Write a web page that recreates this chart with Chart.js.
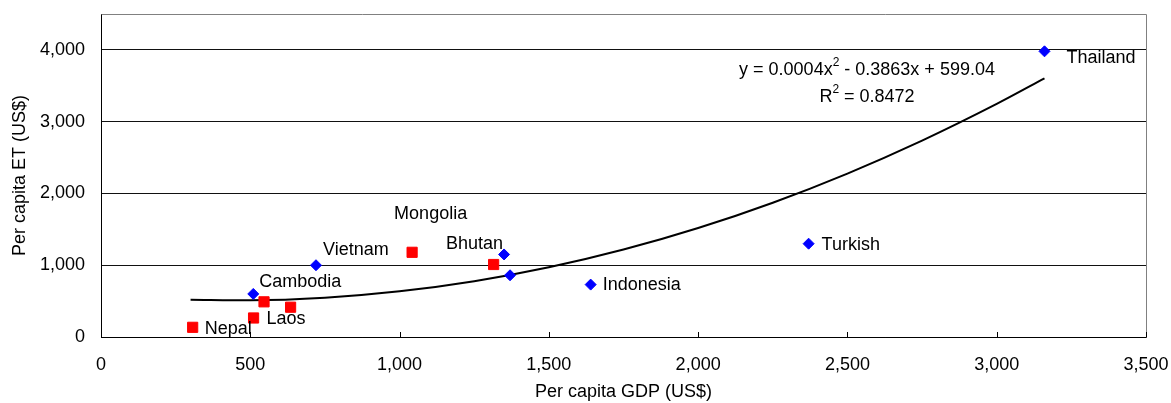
<!DOCTYPE html>
<html>
<head>
<meta charset="utf-8">
<script src="https://cdn.jsdelivr.net/npm/chart.js@4"></script>
<style>
  html, body { margin: 0; padding: 0; background: #fff; }
  #wrap { width: 1171px; height: 403px; }
</style>
</head>
<body>
<div id="wrap"><canvas id="myChart" width="1171" height="403"></canvas></div>
<script>
// blue diamonds
var gdpBlue = [510, 720, 1350, 1370, 1640, 2370, 3160];
var etBlue = [600, 1000, 1150, 860, 730, 1300, 3980];
// red squares
var gdpRed = [307, 511, 546, 635, 1042, 1315];
var etRed = [135, 265, 490, 415, 1180, 1010];
// polynomial trend line
var trendGdp = [300, 500, 750, 1000, 1250, 1500, 1750, 2000, 2250, 2500, 2750, 3000, 3160];
var trendEt = [520, 512, 547, 636, 777, 971, 1218, 1518, 1871, 2277, 2736, 3247, 3603];

var xTicks = [0, 500, 1000, 1500, 2000, 2500, 3000, 3500];
var yTicks = [0, 1000, 2000, 3000, 4000];

// country names: [series, point index, dx, dy]
var countryLabels = [
    ["Thailand", "blue", 6, 22, 7],
    ["Turkish", "blue", 5, 13, 1],
    ["Indonesia", "blue", 4, 12, 0],
    ["Bhutan", "blue", 2, -58, -10],
    ["Mongolia", "red", 4, -18, -38],
    ["Vietnam", "blue", 1, 7, -15],
    ["Cambodia", "blue", 0, 6, -12],
    ["Laos", "red", 1, 13, 1],
    ["Nepal", "red", 0, 12, 2]
];

var FONT = "'Liberation Sans', Arial, sans-serif";

function toPoints(xs, ys) {
    return xs.map((x, i) => ({ x: x, y: ys[i] }));
}

var extras = {
    id: "extras",
    afterDraw: function(chart) {
        const ctx = chart.ctx;
        const area = chart.chartArea;
        const xs = chart.scales.x;
        ctx.save();
        // gray top and right frame
        ctx.strokeStyle = "#808080";
        ctx.lineWidth = 1;
        ctx.beginPath();
        ctx.moveTo(Math.round(area.left) + 0.5, Math.round(area.top) + 0.5);
        ctx.lineTo(Math.round(area.right) + 0.5, Math.round(area.top) + 0.5);
        ctx.lineTo(Math.round(area.right) + 0.5, Math.round(area.bottom) + 0.5);
        ctx.stroke();
        // tick marks pointing into the plot
        ctx.strokeStyle = "#000";
        xTicks.forEach(function(v) {
            const px = Math.round(xs.getPixelForValue(v)) + 0.5;
            ctx.beginPath();
            ctx.moveTo(px, area.bottom);
            ctx.lineTo(px, area.bottom - 5);
            ctx.stroke();
        });
        // country labels
        ctx.fillStyle = "#000";
        ctx.font = "18px " + FONT;
        ctx.textAlign = "left";
        ctx.textBaseline = "middle";
        countryLabels.forEach(function(l) {
            const meta = chart.getDatasetMeta(l[1] === "blue" ? 0 : 1);
            const pt = meta.data[l[2]];
            ctx.fillText(l[0], pt.x + l[3], pt.y + l[4]);
        });
        // trend equation
        const cx = area.left + 766;
        const line1 = ["y = 0.0004x", "2", " - 0.3863x + 599.04"];
        const line2 = ["R", "2", " = 0.8472"];
        [[line1, 70], [line2, 97]].forEach(function(p) {
            const parts = p[0];
            ctx.font = "18px " + FONT;
            const w0 = ctx.measureText(parts[0]).width;
            const w2 = ctx.measureText(parts[2]).width;
            ctx.font = "12px " + FONT;
            const w1 = ctx.measureText(parts[1]).width;
            let x = cx - (w0 + w1 + w2) / 2;
            ctx.font = "18px " + FONT;
            ctx.fillText(parts[0], x, p[1]);
            x += w0;
            ctx.font = "12px " + FONT;
            ctx.fillText(parts[1], x, p[1] - 7);
            x += w1;
            ctx.font = "18px " + FONT;
            ctx.fillText(parts[2], x, p[1]);
        });
        ctx.restore();
    }
};

const ctx = document.getElementById("myChart").getContext("2d");

new Chart(ctx, {
    type: "scatter",
    data: {
        datasets: [{
            label: "Blue",
            data: toPoints(gdpBlue, etBlue),
            pointStyle: "rectRot",
            pointRadius: 5.5,
            pointHoverRadius: 5.5,
            backgroundColor: "#0000ff",
            borderColor: "#0000ff",
            borderWidth: 1
        }, {
            label: "Red",
            data: toPoints(gdpRed, etRed),
            pointStyle: "rect",
            pointRadius: 7.2,
            pointHoverRadius: 7.2,
            backgroundColor: "#ff0000",
            borderColor: "#ff0000",
            borderWidth: 1
        }, {
            label: "Trend",
            data: toPoints(trendGdp, trendEt),
            showLine: true,
            pointRadius: 0,
            pointHoverRadius: 0,
            borderColor: "#000",
            borderWidth: 2,
            cubicInterpolationMode: "monotone",
            fill: false
        }]
    },
    options: {
        responsive: false,
        animation: false,
        layout: {
            padding: { left: 9, top: 14, right: 25, bottom: 0 }
        },
        scales: {
            x: {
                type: "linear",
                min: 0,
                max: 3500,
                afterBuildTicks: function(scale) {
                    scale.ticks = xTicks.map(v => ({ value: v }));
                },
                afterFit: function(scale) {
                    scale.height = 66;
                    scale.paddingLeft = 0;
                    scale.paddingRight = 0;
                },
                grid: { drawOnChartArea: false, drawTicks: false },
                border: { display: true, color: "#000", width: 1 },
                ticks: {
                    color: "#000",
                    padding: 17,
                    maxRotation: 0,
                    font: { family: FONT, size: 18 },
                    callback: v => v.toLocaleString("en-US")
                },
                title: {
                    display: true,
                    text: "Per capita GDP (US$)",
                    color: "#000",
                    font: { family: FONT, size: 18 },
                    padding: { top: 6, bottom: 0 }
                }
            },
            y: {
                type: "linear",
                min: 0,
                max: 4500,
                afterBuildTicks: function(scale) {
                    scale.ticks = yTicks.map(v => ({ value: v }));
                },
                afterFit: function(scale) {
                    scale.width = 92;
                    scale.paddingTop = 0;
                    scale.paddingBottom = 0;
                },
                grid: { color: "#111", lineWidth: 1, drawTicks: false },
                border: { display: true, color: "#000", width: 1 },
                ticks: {
                    color: "#000",
                    padding: 16,
                    font: { family: FONT, size: 18 },
                    callback: v => v.toLocaleString("en-US")
                },
                title: {
                    display: true,
                    text: "Per capita ET (US$)",
                    color: "#000",
                    font: { family: FONT, size: 18 },
                    padding: { top: 0, bottom: 9 }
                }
            }
        },
        plugins: {
            legend: { display: false },
            tooltip: { enabled: false }
        }
    },
    plugins: [extras]
});
</script>
</body>
</html>
